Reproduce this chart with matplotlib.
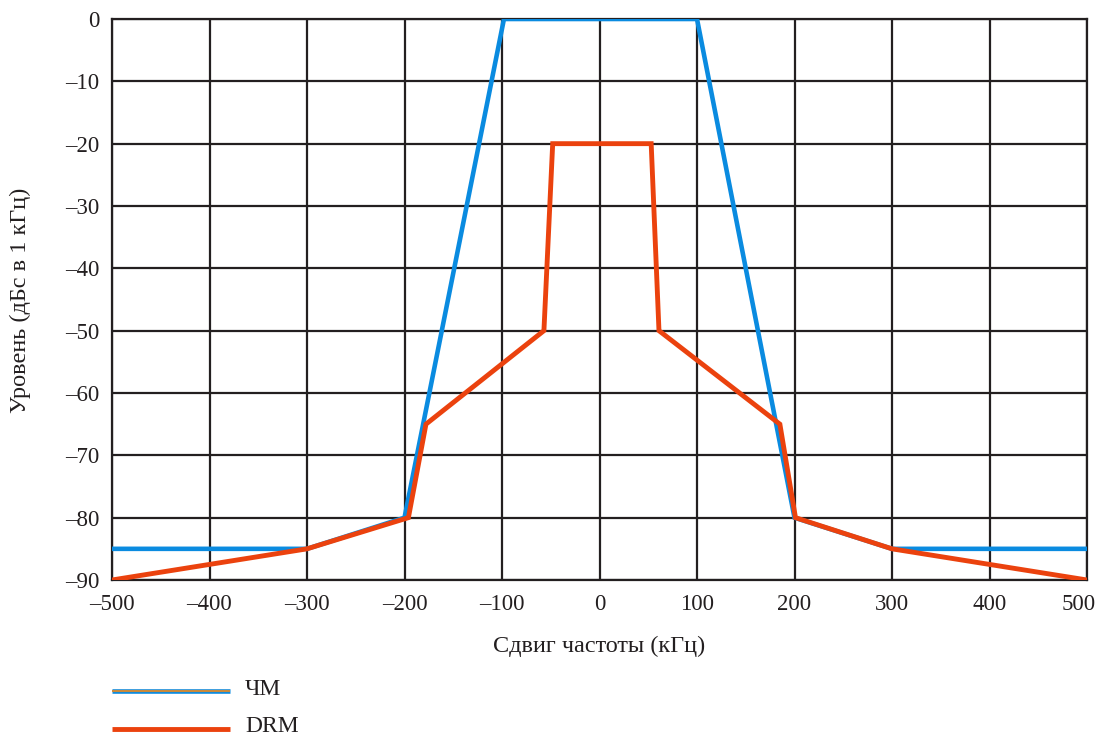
import matplotlib
matplotlib.use("Agg")
import matplotlib.pyplot as plt
from matplotlib.lines import Line2D
from matplotlib.transforms import ScaledTranslation

plt.rcParams['font.family'] = ['Liberation Serif', 'DejaVu Serif']

# Spectrum masks: frequency offset (kHz) vs level (dBc in 1 kHz)
fm_freq = [-500, -300, -200, -98, 100, 200, 300, 500]
fm_level = [-85, -85, -80, 0, 0, -80, -85, -85]

drm_freq = [-500, -300, -196, -178, -57, -48, 53, 61, 185, 201, 300, 500]
drm_level = [-90, -85, -80, -65, -50, -20, -20, -50, -65, -80, -85, -90]

x_ticks = [-500, -400, -300, -200, -100, 0, 100, 200, 300, 400, 500]
y_ticks = [0, -10, -20, -30, -40, -50, -60, -70, -80, -90]

series_names = ['ЧМ', 'DRM']

BLUE = '#0a8be0'
RED = '#eb420e'
TAN = '#c98a3c'
GRID = '#231f20'
TEXT = '#231f20'


def dash_label(v):
    return ('\u2013' + str(abs(v))) if v < 0 else str(v)


fig = plt.figure(figsize=(10.99, 7.38), dpi=100)
ax = fig.add_axes([112 / 1099, 1 - 580 / 738, (1087 - 112) / 1099, (580 - 19) / 738])

ax.plot(fm_freq, fm_level, color=BLUE, lw=3.3, solid_joinstyle='miter', zorder=3)
ax.plot(drm_freq, drm_level, color=RED, lw=3.5, solid_joinstyle='miter', zorder=4)

ax.set_xlim(-500, 500)
ax.set_ylim(-90, 0)
ax.set_xticks(x_ticks)
ax.set_yticks(y_ticks)
ax.set_xticklabels([dash_label(v) for v in x_ticks])
ax.set_yticklabels([dash_label(v) for v in y_ticks])
ax.tick_params(length=0, labelsize=16.5, colors=TEXT)
ax.tick_params(axis='x', pad=10)
ax.tick_params(axis='y', pad=9)
ax.grid(True, color=GRID, lw=1.6)
ax.set_axisbelow(True)
for s in ax.spines.values():
    s.set_color(GRID)
    s.set_linewidth(1.6)

# keep the rightmost frequency label inside the canvas
last = ax.get_xticklabels()[-1]
last.set_transform(last.get_transform() + ScaledTranslation(-8 / 100, 0, fig.dpi_scale_trans))

ax.set_xlabel('Сдвиг частоты (кГц)', fontsize=17.5, color=TEXT)
ax.set_ylabel('Уровень (дБс в 1 кГц)', fontsize=17.5, color=TEXT)
ax.xaxis.set_label_coords(0.5, (580 - 636) / 561)
ax.yaxis.set_label_coords((31 - 112) / 975, (580 - 300) / 561)

# Legend below the plot
leg_x0, leg_x1 = 112 / 1099, 230 / 1099
rows = [691, 729]
fig.add_artist(Line2D([leg_x0, leg_x1], [1 - rows[0] / 738] * 2, color=BLUE, lw=3.3,
                      transform=fig.transFigure, solid_capstyle='butt'))
fig.add_artist(Line2D([leg_x0, leg_x1], [1 - rows[0] / 738] * 2, color=TAN, lw=1.5,
                      transform=fig.transFigure, solid_capstyle='butt'))
fig.add_artist(Line2D([leg_x0, leg_x1], [1 - rows[1] / 738] * 2, color=RED, lw=3.5,
                      transform=fig.transFigure, solid_capstyle='butt'))
for name, r in zip(series_names, rows):
    fig.text(245 / 1099, 1 - min(r + 9, 737) / 738, name, fontsize=17, color=TEXT,
             va='bottom', ha='left')

fig.savefig('out.png', dpi=100, facecolor='white')
